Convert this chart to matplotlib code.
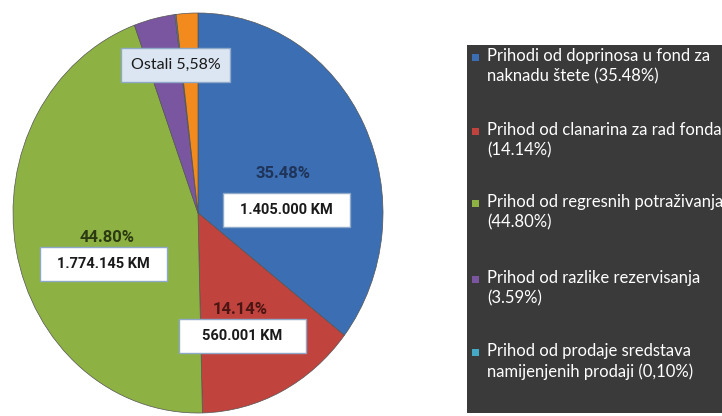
import matplotlib
matplotlib.use("Agg")
import matplotlib.pyplot as plt
from matplotlib.patches import Rectangle

# slice shares as drawn (percent); the orange one is the rest up to 100
shares = [35.48, 14.14, 44.80, 3.59, 0.10, 1.89]
colors = ["#3b6eb3", "#c0433e", "#8db243", "#7a56a0", "#45a8c4", "#f28a1e"]

legend_labels = [
    "Prihodi od doprinosa u fond za\nnaknadu štete (35.48%)",
    "Prihod od clanarina za rad fonda\n(14.14%)",
    "Prihod od regresnih potraživanja\n(44.80%)",
    "Prihod od razlike rezervisanja\n(3.59%)",
    "Prihod od prodaje sredstava\nnamijenjenih prodaji (0,10%)",
]
pct_labels = ["35.48%", "14.14%", "44.80%"]
km_labels = ["1.405.000 KM", "560.001 KM", "1.774.145 KM"]
pct_colors = ["#1f3458", "#4a1512", "#2b3a12"]
other_label = "Ostali 5,58%"

plt.rcParams["font.family"] = ["Lato", "DejaVu Sans"]
bold_font = ["Roboto", "DejaVu Sans"]

W, H = 722, 416
fig = plt.figure(figsize=(W / 100, H / 100), dpi=100)

# pie is slightly taller than wide in the original
ax_w, ax_h = 370, 400
ax = fig.add_axes([13 / W, 3 / H, ax_w / W, ax_h / H])
ax.pie(shares, colors=colors, startangle=90, counterclock=False,
       wedgeprops=dict(edgecolor="#555555", linewidth=0.5))
ax.set_aspect("auto")
ax.set_xlim(-1, 1)
ax.set_ylim(-1, 1)
ax.axis("off")

# value labels (percent + amount box of fixed size)
pct_pos = [(0.46, 0.195), (0.227, -0.48), (-0.49, -0.12)]
box_pos = [(0.48, 0.015), (0.238, -0.615), (-0.51, -0.255)]
bw, bh = 127 * 2 / ax_w, 34 * 2 / ax_h
for i in range(3):
    ax.text(pct_pos[i][0], pct_pos[i][1], pct_labels[i], ha="center", va="center",
            fontsize=12, fontweight="bold", family=bold_font, color=pct_colors[i])
    bx, by = box_pos[i]
    ax.add_patch(Rectangle((bx - bw / 2, by - bh / 2), bw, bh, facecolor="white",
                           edgecolor="#8ea9c8", linewidth=1.0, zorder=3))
    ax.text(bx, by, km_labels[i], ha="center", va="center", zorder=4,
            fontsize=10.5, fontweight="bold", family=bold_font, color="#1a1a1a")

ax.text(-0.12, 0.74, other_label, ha="center", va="center", fontsize=11.5,
        color="#1a1a1a",
        bbox=dict(boxstyle="square,pad=0.6", facecolor="#dce6f2",
                  edgecolor="#8ea9c8", linewidth=1.0))

# legend panel on the right
fig.patches.append(Rectangle((467 / W, 3 / H), 260 / W, 368 / H,
                             transform=fig.transFigure, facecolor="#3a3a3a",
                             edgecolor="none"))
first_line_y = [58, 132, 204, 280, 353]
for i, lab in enumerate(legend_labels):
    y = first_line_y[i]
    fig.patches.append(Rectangle((472 / W, 1 - (y + 3) / H), 7 / W, 7 / H,
                                 transform=fig.transFigure,
                                 facecolor=colors[i], edgecolor="none"))
    fig.text(487 / W, 1 - (y - 10) / H, lab, ha="left", va="top",
             fontsize=12, color="white", linespacing=1.3)

fig.savefig("out.png", dpi=100)
